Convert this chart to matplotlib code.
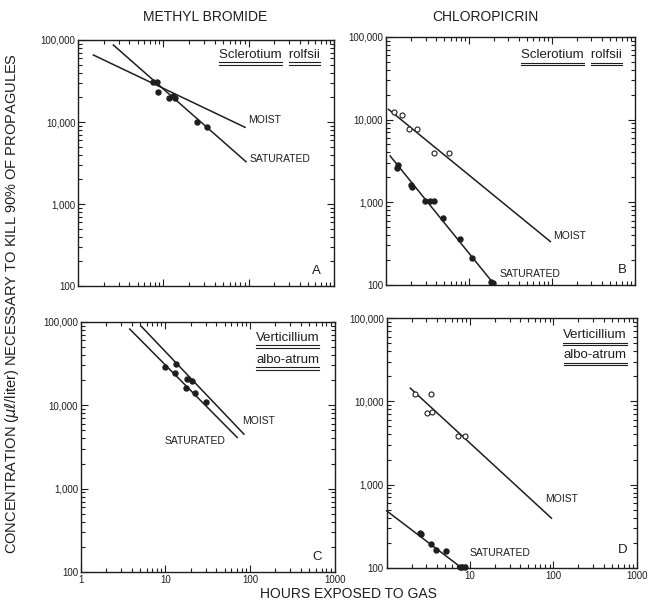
import matplotlib
matplotlib.use('Agg')
import matplotlib.pyplot as plt
from matplotlib.ticker import LogLocator, FuncFormatter, NullFormatter
from matplotlib.lines import Line2D

plt.rcParams['font.family'] = ['Liberation Sans', 'DejaVu Sans']

# A: methyl bromide / Sclerotium rolfsii (all points filled)
a_pts_x = [7.6, 8.36, 8.7, 11.5, 13.1, 13.7, 25, 32.2]
a_pts_y = [30500, 30500, 23400, 19800, 20900, 19800, 10000, 8770]
a_moist_x = [1.51, 90.7]
a_moist_y = [65600, 8610]
a_sat_x = [2.59, 93]
a_sat_y = [86900, 3280]

# B: chloropicrin / Sclerotium rolfsii
b_moist_pts_x = [1.26, 1.57, 1.91, 2.34, 3.79, 5.74]
b_moist_pts_y = [12500, 11400, 7700, 7700, 3980, 3910]
b_sat_pts_x = [1.41, 1.37, 2.0, 2.04, 2.95, 3.39, 3.79, 4.9, 7.8, 10.9, 18.5, 19.5]
b_sat_pts_y = [2820, 2580, 1620, 1540, 1040, 1040, 1040, 640, 360, 214, 108, 106]
b_moist_x = [1.07, 96]
b_moist_y = [13300, 334]
b_sat_x = [1.12, 19.6]
b_sat_y = [3630, 105]

# C: methyl bromide / Verticillium albo-atrum (all points filled)
c_pts_x = [9.8, 13.2, 13.1, 18.0, 20.8, 17.7, 22.2, 30.5]
c_pts_y = [29100, 31100, 24300, 20700, 19600, 16000, 14000, 10800]
c_moist_x = [5.2, 84.8]
c_moist_y = [88100, 4500]
c_sat_x = [3.79, 70.8]
c_sat_y = [81900, 4100]

# D: chloropicrin / Verticillium albo-atrum
d_moist_pts_x = [2.17, 3.44, 3.05, 3.53, 7.18, 8.6]
d_moist_pts_y = [12200, 12200, 7330, 7530, 3840, 3850]
d_sat_pts_x = [2.5, 2.56, 3.38, 3.87, 5.2, 7.6, 8.1, 8.7]
d_sat_pts_y = [260, 254, 192, 164, 161, 101, 101, 101]
d_moist_x = [1.92, 94.9]
d_moist_y = [14400, 395]
d_sat_x = [1.0, 7.52]
d_sat_y = [483, 104]

ink = '#1e1e1e'


def fmt_y(v, pos):
    return '{:,}'.format(int(round(v)))


def setup(ax, xlabels, skip_one=False):
    ax.set_xscale('log')
    ax.set_yscale('log')
    ax.set_xlim(1, 1000)
    ax.set_ylim(100, 100000)
    ax.xaxis.set_major_locator(LogLocator(base=10, numticks=10))
    ax.xaxis.set_minor_locator(LogLocator(base=10, subs=range(2, 10), numticks=20))
    ax.yaxis.set_major_locator(LogLocator(base=10, numticks=10))
    ax.yaxis.set_minor_locator(LogLocator(base=10, subs=range(2, 10), numticks=20))
    ax.yaxis.set_major_formatter(FuncFormatter(fmt_y))
    ax.yaxis.set_minor_formatter(NullFormatter())
    ax.xaxis.set_minor_formatter(NullFormatter())
    if xlabels:
        if skip_one:
            ax.xaxis.set_major_formatter(FuncFormatter(lambda v, p: '' if v < 2 else '{:d}'.format(int(round(v)))))
        else:
            ax.xaxis.set_major_formatter(FuncFormatter(lambda v, p: '{:d}'.format(int(round(v)))))
    else:
        ax.xaxis.set_major_formatter(NullFormatter())
    ax.tick_params(which='both', direction='in', top=True, right=True, colors=ink,
                   labelsize=7, pad=2, width=0.8)
    ax.tick_params(which='major', length=5)
    ax.tick_params(which='minor', length=3)
    for s in ax.spines.values():
        s.set_linewidth(1.0)
        s.set_color(ink)


fig = plt.figure(figsize=(6.51, 6.06), dpi=100)
axA = fig.add_axes([0.120, 0.528, 0.393, 0.406])
axB = fig.add_axes([0.593, 0.530, 0.382, 0.409])
axC = fig.add_axes([0.124, 0.056, 0.390, 0.413])
axD = fig.add_axes([0.594, 0.063, 0.384, 0.412])

setup(axA, False)
setup(axB, False)
setup(axC, True)
setup(axD, True, skip_one=True)

lw = 1.1
ms = 3.6

# A
axA.plot(a_moist_x, a_moist_y, color=ink, lw=lw)
axA.plot(a_sat_x, a_sat_y, color=ink, lw=lw)
axA.plot(a_pts_x, a_pts_y, 'o', color=ink, ms=ms)
axA.text(99, 10700, 'MOIST', fontsize=7.5, va='center', ha='left', color=ink)
axA.text(103, 3510, 'SATURATED', fontsize=7.5, va='center', ha='left', color=ink)

# B
axB.plot(b_moist_x, b_moist_y, color=ink, lw=lw)
axB.plot(b_sat_x, b_sat_y, color=ink, lw=lw)
axB.plot(b_moist_pts_x, b_moist_pts_y, 'o', mfc='white', mec=ink, mew=0.8, ms=ms)
axB.plot(b_sat_pts_x, b_sat_pts_y, 'o', color=ink, ms=ms)
axB.text(104, 392, 'MOIST', fontsize=7.5, va='center', ha='left', color=ink)
axB.text(23.6, 135, 'SATURATED', fontsize=7.5, va='center', ha='left', color=ink)

# C
axC.plot(c_moist_x, c_moist_y, color=ink, lw=lw)
axC.plot(c_sat_x, c_sat_y, color=ink, lw=lw)
axC.plot(c_pts_x, c_pts_y, 'o', color=ink, ms=ms)
axC.text(81, 6550, 'MOIST', fontsize=7.5, va='center', ha='left', color=ink)
axC.text(9.8, 3770, 'SATURATED', fontsize=7.5, va='center', ha='left', color=ink)

# D
axD.plot(d_moist_x, d_moist_y, color=ink, lw=lw)
axD.plot(d_sat_x, d_sat_y, color=ink, lw=lw, clip_on=False)
axD.plot(d_moist_pts_x, d_moist_pts_y, 'o', mfc='white', mec=ink, mew=0.8, ms=ms)
axD.plot(d_sat_pts_x, d_sat_pts_y, 'o', color=ink, ms=ms, clip_on=False)
axD.text(79, 668, 'MOIST', fontsize=7.5, va='center', ha='left', color=ink)
axD.text(9.9, 150, 'SATURATED', fontsize=7.5, va='center', ha='left', color=ink)

# panel letters
for ax, letter, xf, yf in [(axA, 'A', 0.93, 0.06), (axB, 'B', 0.95, 0.06),
                           (axC, 'C', 0.93, 0.06), (axD, 'D', 0.945, 0.07)]:
    ax.text(xf, yf, letter, transform=ax.transAxes, fontsize=9.5, ha='center',
            va='center', color=ink)

# species names (underlined word by word)
species = []
species.append((axA, ['Sclerotium', 'rolfsii'], 0.945, 0.94))
species.append((axB, ['Sclerotium', 'rolfsii'], 0.95, 0.927))
species.append((axC, ['Verticillium'], 0.94, 0.936))
species.append((axC, ['albo-atrum'], 0.94, 0.848))
species.append((axD, ['Verticillium'], 0.96, 0.932))
species.append((axD, ['albo-atrum'], 0.96, 0.852))

sp_size = 9.5
sp_texts = []
for ax, words, xf, yf in species:
    t = ax.text(xf, yf, '  '.join(words), transform=ax.transAxes, fontsize=sp_size,
                ha='right', va='center', color=ink)
    sp_texts.append((ax, words, t))

fig.text(0.315, 0.972, 'METHYL BROMIDE', fontsize=10, ha='center', va='center', color=ink)
fig.text(0.745, 0.972, 'CHLOROPICRIN', fontsize=10, ha='center', va='center', color=ink)
fig.text(0.019, 0.5, 'CONCENTRATION ($\\mu\\ell$/liter) NECESSARY TO KILL 90% OF PROPAGULES',
         rotation=90, fontsize=10.5, ha='center', va='center', color=ink)
fig.text(0.535, 0.02, 'HOURS EXPOSED TO GAS', fontsize=10, ha='center', va='center', color=ink)

fig.canvas.draw()
renderer = fig.canvas.get_renderer()
W, H = fig.bbox.width, fig.bbox.height
for ax, words, t in sp_texts:
    bb = t.get_window_extent(renderer)
    spans = []
    if len(words) == 1:
        spans.append((bb.x0, bb.x1))
    else:
        t0 = fig.text(0, 0, words[0], fontsize=sp_size)
        w0 = t0.get_window_extent(renderer).width
        t0.remove()
        t1 = fig.text(0, 0, words[1], fontsize=sp_size)
        w1 = t1.get_window_extent(renderer).width
        t1.remove()
        spans.append((bb.x0, bb.x0 + w0))
        spans.append((bb.x1 - w1, bb.x1))
    for xa, xb in spans:
        for off in (1.5, 4.0):
            yy = (bb.y0 - off) / H
            fig.add_artist(Line2D([xa / W, xb / W], [yy, yy], color=ink, lw=0.8))

fig.savefig('out.png', dpi=100)
